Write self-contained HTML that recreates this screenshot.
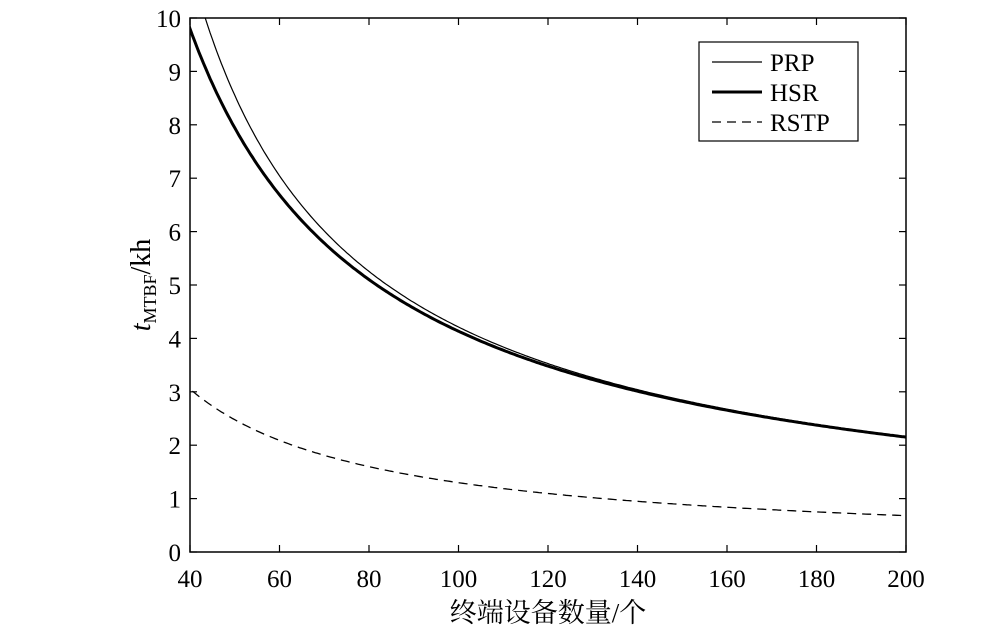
<!DOCTYPE html>
<html><head><meta charset="utf-8"><style>
html,body{margin:0;padding:0;background:#fff;}
svg text{font-family:"Liberation Serif","Noto Serif CJK SC",serif;fill:#000;}
</style></head><body>
<svg id="s" width="1000" height="637" xmlns="http://www.w3.org/2000/svg">
<defs><clipPath id="c"><rect x="190" y="18" width="716" height="534"/></clipPath></defs>
<rect x="190" y="18" width="716" height="534" fill="none" stroke="#000" stroke-width="1.5"/>
<g id="ticks" stroke="#000" stroke-width="1.2"></g>
<g id="labels" font-size="25"></g>
<g clip-path="url(#c)" fill="none" stroke="#000">
<path id="prp" stroke-width="1.2"/>
<path id="hsr" stroke-width="3"/>
<path id="rstp" stroke-width="1.3" stroke-dasharray="9,6"/>
</g>
<rect x="699" y="42" width="159" height="99" fill="#fff" stroke="#000" stroke-width="1.2"/>
<line x1="712" y1="62" x2="762" y2="62" stroke="#000" stroke-width="1.2"/>
<line x1="712" y1="92" x2="762" y2="92" stroke="#000" stroke-width="3"/>
<line x1="712" y1="122" x2="762" y2="122" stroke="#000" stroke-width="1.3" stroke-dasharray="9,6"/>
<text x="770" y="71" font-size="25">PRP</text>
<text x="770" y="101" font-size="25">HSR</text>
<text x="770" y="131" font-size="25">RSTP</text>
<text x="548" y="622" font-size="27" text-anchor="middle">终端设备数量/个</text>
<text transform="translate(150,285) rotate(-90)" text-anchor="middle" font-size="28"><tspan font-style="italic">t</tspan><tspan font-size="18" dy="6">MTBF</tspan><tspan dy="-6">/kh</tspan></text>
</svg>
<script>
var X=n=>190+(n-40)*716/160, Y=v=>552-v*53.4;
function p(f){var d="";for(var n=38;n<=201;n+=0.5){d+=(d?"L":"M")+X(n).toFixed(1)+","+Y(f(n)).toFixed(1);}return d;}
var H=n=>9.8*Math.pow(40/n,0.942);
document.getElementById("prp").setAttribute("d",p(n=>H(n)*(1+0.12*Math.pow(40/n,2))));
document.getElementById("hsr").setAttribute("d",p(H));
document.getElementById("rstp").setAttribute("d",p(n=>3.05*Math.pow(40/n,0.932)));
var t="",l="";
for(var n=40;n<=200;n+=20){var x=X(n);t+=`<line x1="${x}" y1="552" x2="${x}" y2="545"/><line x1="${x}" y1="18" x2="${x}" y2="25"/>`;l+=`<text x="${x}" y="587" text-anchor="middle">${n}</text>`;}
for(var v=0;v<=10;v++){var y=Y(v);t+=`<line x1="190" y1="${y}" x2="197" y2="${y}"/><line x1="906" y1="${y}" x2="899" y2="${y}"/>`;l+=`<text x="181" y="${y+9}" text-anchor="end">${v}</text>`;}
document.getElementById("ticks").innerHTML=t;document.getElementById("labels").innerHTML=l;
</script>
</body></html>
